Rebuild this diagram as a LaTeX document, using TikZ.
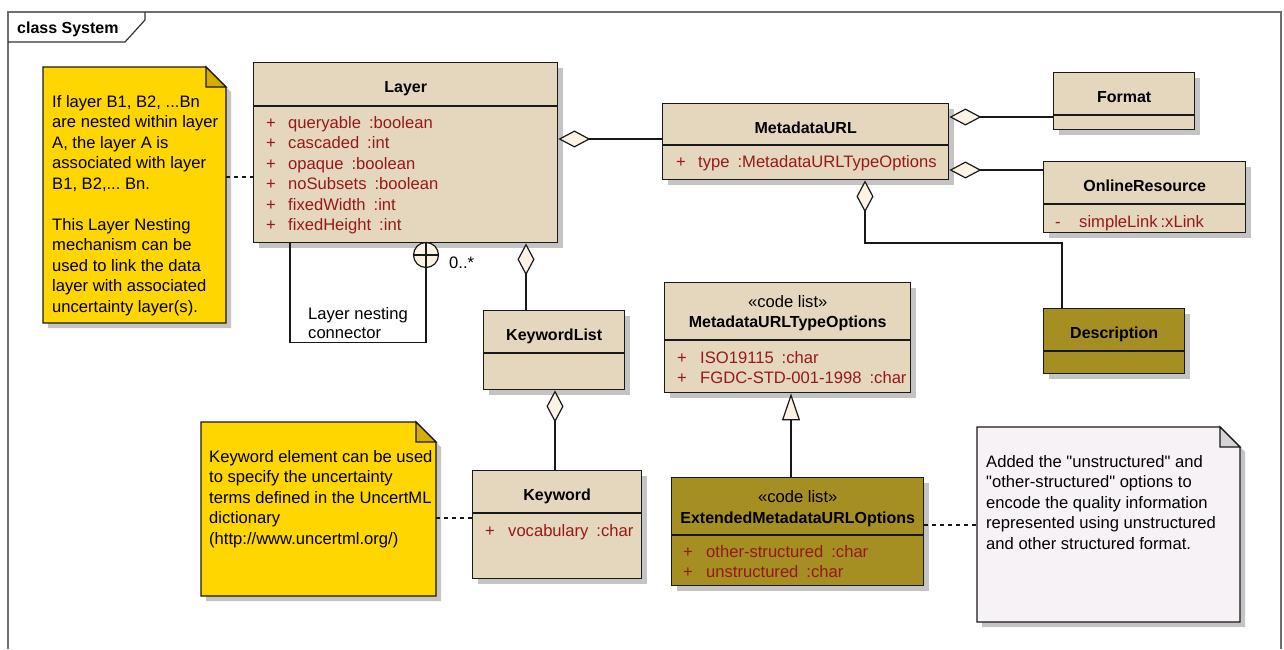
\documentclass[tikz,border=0pt]{standalone}
\usepackage{fontspec}
\setmainfont{Liberation Sans}[Ligatures=TeXOff]
\usetikzlibrary{arrows.meta,calc,shadows}
\definecolor{clsfill}{RGB}{229,214,190}
\definecolor{olive}{RGB}{166,143,34}
\definecolor{attrred}{RGB}{150,25,25}
\definecolor{cream}{RGB}{252,243,228}
\definecolor{noteyel}{RGB}{255,214,0}
\definecolor{noteyelfold}{RGB}{214,172,0}
\definecolor{notegray}{RGB}{246,242,246}
\definecolor{notegrayfold}{RGB}{214,212,214}
\definecolor{shadowcol}{RGB}{196,196,196}
\definecolor{framecol}{RGB}{110,110,110}
\newcommand{\txtfont}{\fontsize{16.6}{20.5}\selectfont}
\newcommand{\bdfont}{\fontsize{16}{20.5}\selectfont\bfseries}
\newcommand{\gp}{\hspace{8pt}}
\frenchspacing
\tikzset{
  cls/.style={draw=black!90, line width=1.4pt, inner sep=0pt, anchor=north west,
    general shadow={fill=shadowcol, shadow xshift=5pt, shadow yshift=-5pt}},
  sepline/.style={draw=black!90, line width=1.2pt},
  ttl/.style={anchor=base, inner sep=0pt, font=\bdfont},
  stereo/.style={anchor=base, inner sep=0pt, font=\txtfont},
  attrtxt/.style={anchor=base west, inner sep=0pt, text=attrred, font=\txtfont},
  plain/.style={anchor=base west, inner sep=0pt, font=\txtfont},
  notebord/.style={draw=black!90, line width=1.3pt},
  conn/.style={draw=black!90, line width=1.2pt},
  aggr/.style={conn, {Diamond[length=32pt,width=17pt,fill=cream]}-},
  gen/.style={conn, -{Triangle[length=27pt,width=18pt,fill=cream]}},
  notelink/.style={draw=black!90, line width=1.1pt, dash pattern=on 4pt off 4pt},
  frameline/.style={draw=framecol, line width=1.6pt}
}
% class box: name, x1, y1, x2, y2, header height, fill
\newcommand{\umlclass}[7]{%
  \node[cls, fill=#7, minimum width={#4-#2}, minimum height={#5-#3}] (#1) at (#2,#3) {};
  \draw[sepline] ($(#1.north west)+(0,#6)$) -- ($(#1.north east)+(0,#6)$);
}
% attribute line: name, xsign, xtext, ybase, sign, text
\newcommand{\attrline}[6]{%
  \node[attrtxt] (#1-s) at (#2,#4) {#5};
  \node[attrtxt] (#1) at (#3,#4) {#6};
}
% note: name, x1, y1, x2, y2, colour
\newcommand{\umlnote}[6]{%
  \fill[shadowcol] (#2+5,#3+5) -- (#4-15,#3+5) -- (#4+5,#3+25) -- (#4+5,#5+5) -- (#2+5,#5+5) -- cycle;
  \draw[notebord, fill=#6] (#2,#3) -- (#4-20,#3) -- (#4,#3+20) -- (#4,#5) -- (#2,#5) -- cycle;
  \draw[notebord, fill=#6fold] (#4-20,#3) -- (#4-20,#3+20) -- (#4,#3+20) -- cycle;
  \node[inner sep=0pt, minimum width={#4-#2}, minimum height={#5-#3}, anchor=north west] (#1) at (#2,#3) {};
}
\begin{document}
\begin{tikzpicture}[x=1pt,y=-1pt]
\useasboundingbox (0,0) rectangle (1284,649);
\fill[white] (0,0) rectangle (1284,649);

% frame
\draw[frameline] (8,649) -- (8,12) -- (1281,12) -- (1281,649);
\draw[draw=black!80, line width=1.2pt] (8,42) -- (125,42) -- (145,20) -- (145,12);
\node[anchor=base west, inner sep=0pt, font=\bdfont] (frametitle) at (17,33) {class System};

% notes
\umlnote{note1}{43}{67}{226}{323}{noteyel}
\node[anchor=base west, inner sep=0pt, font=\txtfont] (note1-t) at (52,107) {\parbox[t]{180pt}{\raggedright\frenchspacing
If layer B1, B2, ...Bn\\
are nested within layer\\
A, the layer A is\\
associated with layer\\
B1, B2,... Bn.\\[20.5pt]
This Layer Nesting\\
mechanism can be\\
used to link the data\\
layer with associated\\
uncertainty layer(s).}};

\umlnote{note2}{201}{422}{436}{596}{noteyel}
\node[anchor=base west, inner sep=0pt, font=\txtfont] (note2-t) at (209,462) {\parbox[t]{230pt}{\raggedright
Keyword element can be used\\
to specify the uncertainty\\
terms defined in the UncertML\\
dictionary\\
(http://www.uncertml.org/)}};

\umlnote{note3}{977}{427}{1240}{622}{notegray}
\node[anchor=base west, inner sep=0pt, font=\txtfont] (note3-t) at (986,467) {\parbox[t]{250pt}{\raggedright
Added the "unstructured" and\\
"other-structured" options to\\
encode the quality information\\
represented using unstructured\\
and other structured format.}};

% Layer
\umlclass{layer}{253}{62}{557}{242}{44}{clsfill}
\node[ttl] (layer-t) at ($(layer.north)+(0,30)$) {Layer};
\attrline{la1}{266}{288}{128}{+}{queryable\gp:boolean}
\attrline{la2}{266}{288}{148.5}{+}{cascaded\gp:int}
\attrline{la3}{266}{288}{169}{+}{opaque\gp:boolean}
\attrline{la4}{266}{288}{189.5}{+}{noSubsets\gp:boolean}
\attrline{la5}{266}{288}{210}{+}{fixedWidth\gp:int}
\attrline{la6}{266}{288}{230.5}{+}{fixedHeight\gp:int}

% MetadataURL
\umlclass{meta}{662}{103}{948}{179}{42}{clsfill}
\node[ttl] (meta-t) at ($(meta.north)+(0,30)$) {MetadataURL};
\attrline{ma1}{676}{698}{167}{+}{type\gp:MetadataURLTypeOptions}

% Format
\umlclass{format}{1053}{72}{1194}{129}{43}{clsfill}
\node[ttl] (format-t) at ($(format.north)+(0,30)$) {Format};

% OnlineResource
\umlclass{online}{1043}{161}{1245}{232}{43}{clsfill}
\node[ttl] (online-t) at ($(online.north)+(0,30)$) {OnlineResource};
\attrline{oa1}{1055}{1079}{227}{-}{simpleLink\hspace{3pt}:xLink}

% Description
\umlclass{desc}{1043}{308}{1184}{373}{43}{olive}
\node[ttl] (desc-t) at ($(desc.north)+(0,30)$) {Description};

% KeywordList
\umlclass{kwlist}{483}{310}{624}{389}{43}{clsfill}
\node[ttl] (kwlist-t) at ($(kwlist.north)+(0,30)$) {KeywordList};

% Keyword
\umlclass{kw}{472}{470}{641}{578}{43}{clsfill}
\node[ttl] (kw-t) at ($(kw.north)+(0,30)$) {Keyword};
\attrline{ka1}{485}{508}{536}{+}{vocabulary\gp:char}

% MetadataURLTypeOptions
\umlclass{typeopt}{664}{282}{910}{392}{58}{clsfill}
\node[stereo] (typeopt-s) at ($(typeopt.north)+(0,25)$) {«code list»};
\node[ttl] (typeopt-t) at ($(typeopt.north)+(0,45)$) {MetadataURLTypeOptions};
\attrline{ta1}{677}{700}{363}{+}{ISO19115\gp:char}
\attrline{ta2}{677}{700}{383.5}{+}{FGDC-STD-001-1998\gp:char}

% ExtendedMetadataURLOptions
\umlclass{ext}{671}{477}{923}{585}{58}{olive}
\node[stereo] (ext-s) at ($(ext.north)+(0,25)$) {«code list»};
\node[ttl] (ext-t) at ($(ext.north)+(0,46)$) {ExtendedMetadataURLOptions};
\attrline{ea1}{683}{706}{557}{+}{other-structured\gp:char}
\attrline{ea2}{683}{706}{577.5}{+}{unstructured\gp:char}

% connectors
\draw[aggr] ($(layer.north east)+(0,77)$) -- ($(meta.north west)+(0,36)$);
\draw[aggr] ($(meta.north east)+(0,14)$) -- ($(format.north west)+(0,45)$);
\draw[aggr] ($(meta.north east)+(0,67)$) -- ($(online.north west)+(0,9)$);
\draw[aggr] ($(meta.south west)+(203,0)$) |- ($(desc.north west)+(19,-65)$) -- ($(desc.north west)+(19,0)$);
\draw[aggr] ($(layer.south west)+(273,0)$) -- ($(kwlist.north west)+(43,0)$);
\draw[aggr] ($(kwlist.south west)+(72,0)$) -- ($(kw.north west)+(83,0)$);
\draw[gen] ($(ext.north west)+(120,0)$) -- ($(typeopt.south west)+(127,0)$);

% nesting connector
\node[circle, draw=black!90, line width=1.2pt, fill=cream, minimum size=25pt, inner sep=0pt] (nest) at (426,255) {};
\draw[conn] (nest.north) -- (nest.south);
\draw[conn] (nest.west) -- (nest.east);
\draw[conn] ($(layer.south west)+(37,0)$) |- ($(nest.south)+(0,74)$) -- (nest.south);
\node[plain] (mult) at (449,268) {0..*};
\node[plain] (nestlbl) at (308,319) {\parbox[t]{150pt}{\raggedright\baselineskip=19.5pt Layer nesting\\connector}};

% note links
\draw[notelink] ($(note1.north east)+(0,110)$) -- ($(layer.north west)+(0,115)$);
\draw[notelink] ($(note2.north east)+(0,96)$) -- ($(kw.north west)+(0,48)$);
\draw[notelink] ($(ext.north east)+(0,48)$) -- ($(note3.north west)+(0,98)$);
\end{tikzpicture}
\end{document}
